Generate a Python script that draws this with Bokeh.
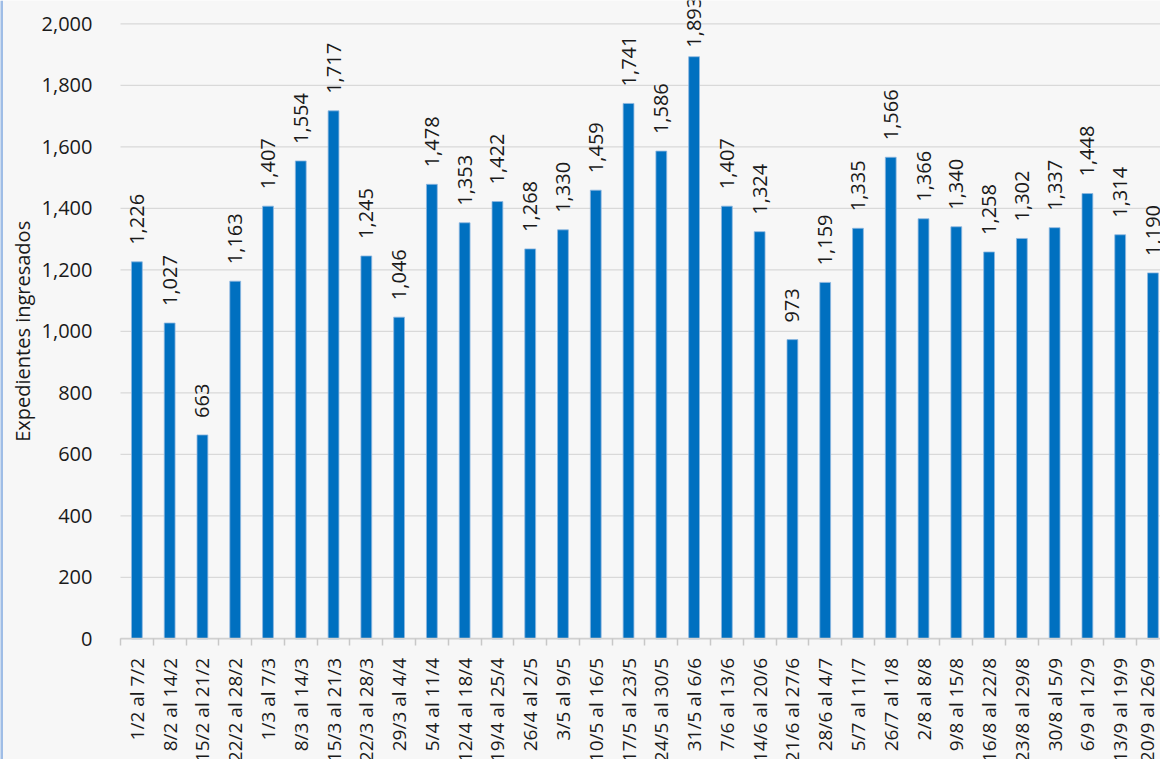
import math
from bokeh.plotting import figure
from bokeh.models import (ColumnDataSource, Range1d, FixedTicker, NumeralTickFormatter, Label, Span)
from bokeh.embed import file_html
from bokeh.resources import INLINE

categories = ["1/2 al 7/2", "8/2 al 14/2", "15/2 al 21/2", "22/2 al 28/2", "1/3 al 7/3",
              "8/3 al 14/3", "15/3 al 21/3", "22/3 al 28/3", "29/3 al 4/4", "5/4 al 11/4",
              "12/4 al 18/4", "19/4 al 25/4", "26/4 al 2/5", "3/5 al 9/5", "10/5 al 16/5",
              "17/5 al 23/5", "24/5 al 30/5", "31/5 al 6/6", "7/6 al 13/6", "14/6 al 20/6",
              "21/6 al 27/6", "28/6 al 4/7", "5/7 al 11/7", "26/7 al 1/8", "2/8 al 8/8",
              "9/8 al 15/8", "16/8 al 22/8", "23/8 al 29/8", "30/8 al 5/9", "6/9 al 12/9",
              "13/9 al 19/9", "20/9 al 26/9"]
values = [1226, 1027, 663, 1163, 1407, 1554, 1717, 1245, 1046, 1478, 1353, 1422, 1268,
          1330, 1459, 1741, 1586, 1893, 1407, 1324, 973, 1159, 1335, 1566, 1366, 1340,
          1258, 1302, 1337, 1448, 1314, 1190]
y_ticks = list(range(0, 2001, 200))

FONT = "Open Sans"
TXT = "#1a1a1a"
BG = "#f7f7f7"

n = len(categories)
xs = [i + 0.5 for i in range(n)]
labels = ["{:,}".format(v) for v in values]
# labels of bars that reach the top of the chart are pulled closer to the bar (as Excel does)
label_gap = [-9 if v > 1850 else -17 for v in values]
src = ColumnDataSource(dict(x=xs, top=values, lab=labels, gap=label_gap))

# The chart is a crop: the frame fills the whole canvas, axes sit at x=0 / y=0
X_START, X_END = -3.661, 31.73
p = figure(width=1160, height=759, output_backend="svg", toolbar_location=None,
           x_range=Range1d(X_START, X_END), y_range=Range1d(-392.5, 2075.8),
           min_border_left=0, min_border_right=0, min_border_top=0, min_border_bottom=0)
p.background_fill_color = BG
p.border_fill_color = BG
p.outline_line_color = None
p.xgrid.grid_line_color = None
p.ygrid.grid_line_color = None

# horizontal gridlines over the plot area only
p.segment(x0=[0] * len(y_ticks), x1=[X_END] * len(y_ticks), y0=y_ticks, y1=y_ticks,
          line_color="#d9d9d9", line_width=1.3)

p.vbar(x="x", top="top", width=0.33, source=src, fill_color="#0070c0",
       line_color="#8fb8e0", line_width=0.8)
p.text(x="x", y="top", text="lab", source=src, angle=math.pi / 2, y_offset="gap",
       text_align="left", text_baseline="middle", text_font_size="20px",
       text_font={"value": FONT}, text_color=TXT)

# x axis at y = 0
p.xaxis.fixed_location = 0
p.xaxis.bounds = (0, n)
p.xaxis.ticker = FixedTicker(ticks=xs, minor_ticks=list(range(0, n + 1)))
p.xaxis.major_label_overrides = {x: c for x, c in zip(xs, categories)}
p.xaxis.major_label_orientation = math.pi / 2
p.xaxis.major_tick_line_color = None
p.xaxis.major_tick_out = 0
p.xaxis.major_tick_in = 0
p.xaxis.minor_tick_line_color = "#c8c8c8"
p.xaxis.minor_tick_line_width = 1.5
p.xaxis.minor_tick_out = 7
p.xaxis.minor_tick_in = 0
p.xaxis.axis_line_color = "#d0d0d0"
p.xaxis.axis_line_width = 1.5
p.xaxis.major_label_standoff = 12
p.xaxis.major_label_text_font = FONT
p.xaxis.major_label_text_font_size = "19px"
p.xaxis.major_label_text_color = TXT

# y axis at x = 0
p.yaxis.fixed_location = 0
p.yaxis.ticker = FixedTicker(ticks=y_ticks)
p.yaxis.formatter = NumeralTickFormatter(format="0,0")
p.yaxis.major_tick_line_color = None
p.yaxis.minor_tick_line_color = None
p.yaxis.axis_line_color = None
p.yaxis.major_label_standoff = 22
p.yaxis.major_label_text_font = FONT
p.yaxis.major_label_text_font_size = "20px"
p.yaxis.major_label_text_color = TXT

p.add_layout(Label(x=0, y=1000, x_offset=-98, text="Expedientes ingresados",
                   angle=math.pi / 2, text_align="center", text_baseline="middle",
                   text_font=FONT, text_font_size="20px", text_color=TXT))

# light blue frame edge on the left, as in the source slide
p.add_layout(Span(location=X_START, dimension="height", line_color="#9fbde6", line_width=5))

open("out.html", "w").write(file_html(p, INLINE))
